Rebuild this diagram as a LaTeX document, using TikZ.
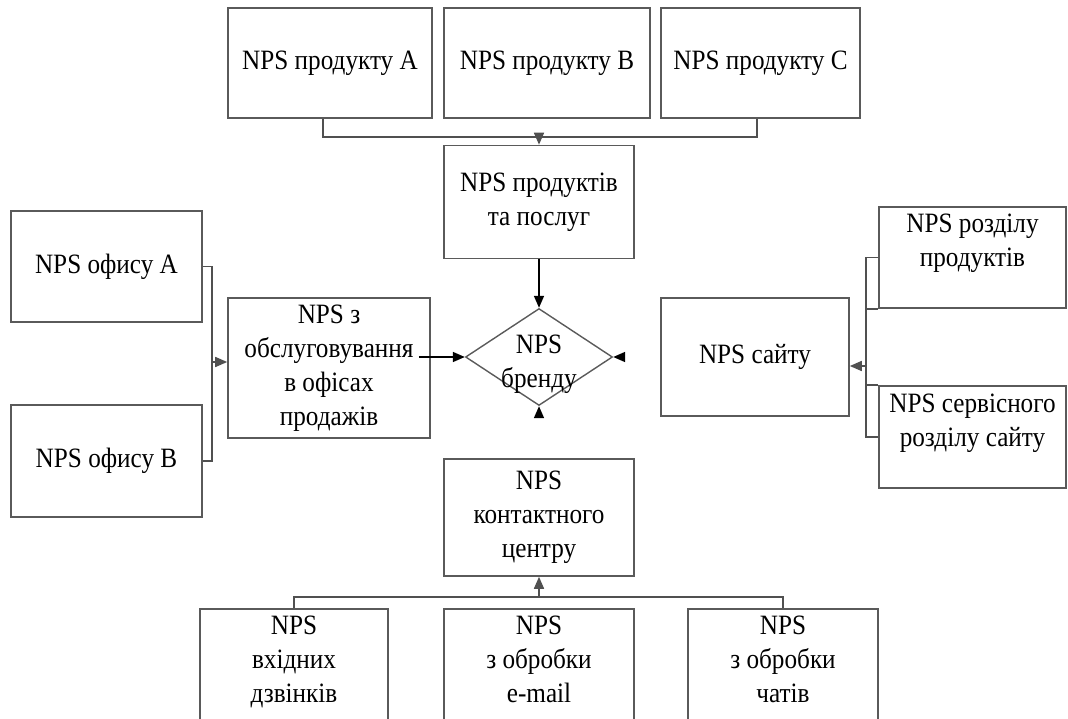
\documentclass[tikz,border=0pt]{standalone}
\usepackage{fontspec}
\setmainfont[FakeStretch=0.9]{Liberation Serif}
\usetikzlibrary{shapes.geometric,arrows.meta}
\definecolor{frame}{HTML}{5A5A5A}
\definecolor{wire}{HTML}{505050}

\begin{document}
\begin{tikzpicture}[x=1pt,y=-1pt,>={Triangle[length=12pt,width=10pt]},
  box/.style={shape=rectangle,draw=frame,line width=1.6pt,align=center,inner sep=2pt,
    font=\fontsize{28}{34}\selectfont},
  wire/.style={draw=wire,line width=1.6pt},
  ghost/.style={draw=white,line width=1.6pt,-{Triangle[length=12pt,width=10pt,color=black]}}]
\useasboundingbox (0,0) rectangle (1068,719);
\clip (0,0) rectangle (1068,719);
% products
\node (prodA) at (330,63)   [box,minimum width=204,minimum height=110] {NPS продукту A};
\node (prodB) at (547,63)   [box,minimum width=206,minimum height=110] {NPS продукту B};
\node (prodC) at (760.5,63) [box,minimum width=199,minimum height=110] {NPS продукту C};
\node (prods) at (539,202)  [box,minimum width=190,minimum height=113] {NPS продуктів\\та послуг};
% brand
\node (brand) at (539,357) [shape=diamond,draw=frame,line width=1.4pt,align=center,inner sep=-26pt,
  minimum width=147,minimum height=97,text height=60pt,text depth=0pt,
  font=\fontsize{28}{34}\selectfont] {NPS\\бренду};
% offices
\node (offA) at (106.5,266.5) [box,minimum width=191,minimum height=111] {NPS офису A};
\node (offB) at (106.5,461)   [box,minimum width=191,minimum height=112] {NPS офису B};
\node (serv) at (329,368)     [box,minimum width=202,minimum height=140] {NPS з\\обслуговування\\в офісах\\продажів};
% site
\node (site) at (755,357)     [box,minimum width=188,minimum height=118] {NPS сайту};
\node (secP) at (972.5,257.5) [box,minimum width=187,minimum height=101] {NPS розділу\\продуктів\\\mbox{}};
\node (secS) at (972.5,437)   [box,minimum width=187,minimum height=102] {NPS сервісного\\розділу сайту\\\mbox{}};
% contact centre
\node (contact) at (539,517.5) [box,minimum width=190,minimum height=117] {NPS\\контактного\\центру};
\node (callIn) at (294,676)    [box,minimum width=188,minimum height=134] {NPS\\вхідних\\дзвінків\\\mbox{}};
\node (mail)   at (539,676)    [box,minimum width=190,minimum height=134] {NPS\\з обробки\\e-mail\\\mbox{}};
\node (chat)   at (783,676)    [box,minimum width=190,minimum height=134] {NPS\\з обробки\\чатів\\\mbox{}};

\coordinate (topbus) at (539,137);
\coordinate (offbus) at (212,362);
\coordinate (sitebus) at (866,366);
\coordinate (lowbus) at (539,597);

\draw [wire] ([xshift=-7pt]prodA.south) |- (topbus) -| ([xshift=-3.5pt]prodC.south);
\draw [wire,->] (topbus) -- (prods.north);
\draw [->,line width=1.6pt] (prods.south) -- (brand.north);
\draw [->,line width=1.6pt] ([xshift=-12pt]serv.east |- brand.west) -- (brand.west);
\draw [wire] (offA.east) -| (offbus) |- (offB.east);
\draw [wire,->] (offbus) -- (serv.west |- offbus);
\draw [wire] (secP.west) -| (sitebus) |- (secS.west);
\draw [wire] (secP.south west) -- (secP.south west -| sitebus);
\draw [wire] (secS.north west) -- (secS.north west -| sitebus);
\draw [wire,->] (sitebus) -- (site.east |- sitebus);
\draw [ghost,shorten <=2pt] (site.west) -- (brand.east);
\draw [ghost,shorten <=2pt] (contact.north) -- (brand.south);
\draw [wire] (callIn.north) |- (lowbus) -| (chat.north);
\draw [wire,->] (lowbus) -- (contact.south);
\end{tikzpicture}
\end{document}
